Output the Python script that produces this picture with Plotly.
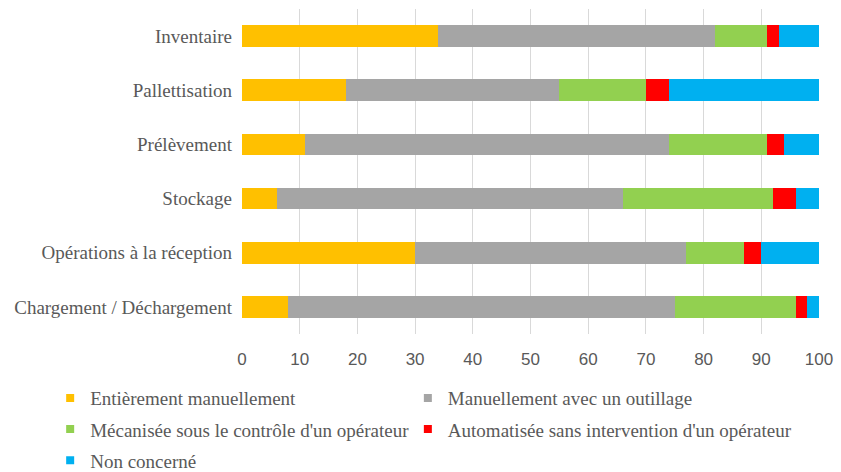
import plotly.graph_objects as go

categories = ["Inventaire", "Pallettisation", "Prélèvement", "Stockage",
              "Opérations à la réception", "Chargement / Déchargement"]

series_names = ["Entièrement manuellement", "Manuellement avec un outillage",
                "Mécanisée sous le contrôle d'un opérateur",
                "Automatisée sans intervention d'un opérateur", "Non concerné"]

entierement = [34, 18, 11, 6, 30, 8]
outillage = [48, 37, 63, 60, 47, 67]
mecanisee = [9, 15, 17, 26, 10, 21]
automatisee = [2, 4, 3, 4, 3, 2]
non_concerne = [7, 26, 6, 4, 10, 2]

x_ticks = [0, 10, 20, 30, 40, 50, 60, 70, 80, 90, 100]

colors = ["#FFC000", "#A5A5A5", "#92D050", "#FF0000", "#00B0F0"]
legend_ids = ["legend", "legend2", "legend", "legend2", "legend"]

values = [entierement, outillage, mecanisee, automatisee, non_concerne]

fig = go.Figure()
for name, vals, col in zip(series_names, values, colors):
    fig.add_trace(go.Bar(
        y=categories, x=vals, name=name, orientation="h",
        marker=dict(color=col, line=dict(width=0)),
        showlegend=False,
    ))

for i, (name, col, lg) in enumerate(zip(series_names, colors, legend_ids)):
    fig.add_trace(go.Scatter(
        x=[None], y=[None], mode="markers", name=name,
        marker=dict(symbol="square", size=8, color=col),
        legend=lg, legendgroup="g%d" % i, showlegend=True,
    ))

text_font = dict(family="Liberation Serif, Times New Roman, serif", size=19, color="#595959")

fig.update_layout(
    width=841, height=472,
    barmode="stack", bargap=0.6,
    plot_bgcolor="white", paper_bgcolor="white",
    margin=dict(l=242, r=22, t=9, b=138, autoexpand=False),
    xaxis=dict(
        range=[0, 100], tickvals=x_ticks, showgrid=True, gridcolor="#D9D9D9",
        gridwidth=1, zeroline=False, showline=False, automargin=False,
        tickfont=dict(family="Liberation Sans, Arial, sans-serif", size=17, color="#595959"),
        ticklabelstandoff=13,
    ),
    yaxis=dict(
        autorange="reversed", showgrid=False, zeroline=False, showline=False,
        automargin=False, tickfont=text_font, ticklabelstandoff=9,
    ),
    legend=dict(
        x=(50 - 242) / 577.5, xanchor="left", y=-0.1386, yanchor="top",
        orientation="v", font=text_font, tracegroupgap=3.5,
        bgcolor="rgba(0,0,0,0)", itemwidth=30,
    ),
    legend2=dict(
        x=(408 - 242) / 577.5, xanchor="left", y=-0.1386, yanchor="top",
        orientation="v", font=text_font, tracegroupgap=3.5,
        bgcolor="rgba(0,0,0,0)", itemwidth=30,
    ),
    showlegend=True,
)

fig.write_html(
    "out.html",
    config={"displayModeBar": False},
    post_script="document.body.style.margin='0';document.body.style.padding='0';",
)
